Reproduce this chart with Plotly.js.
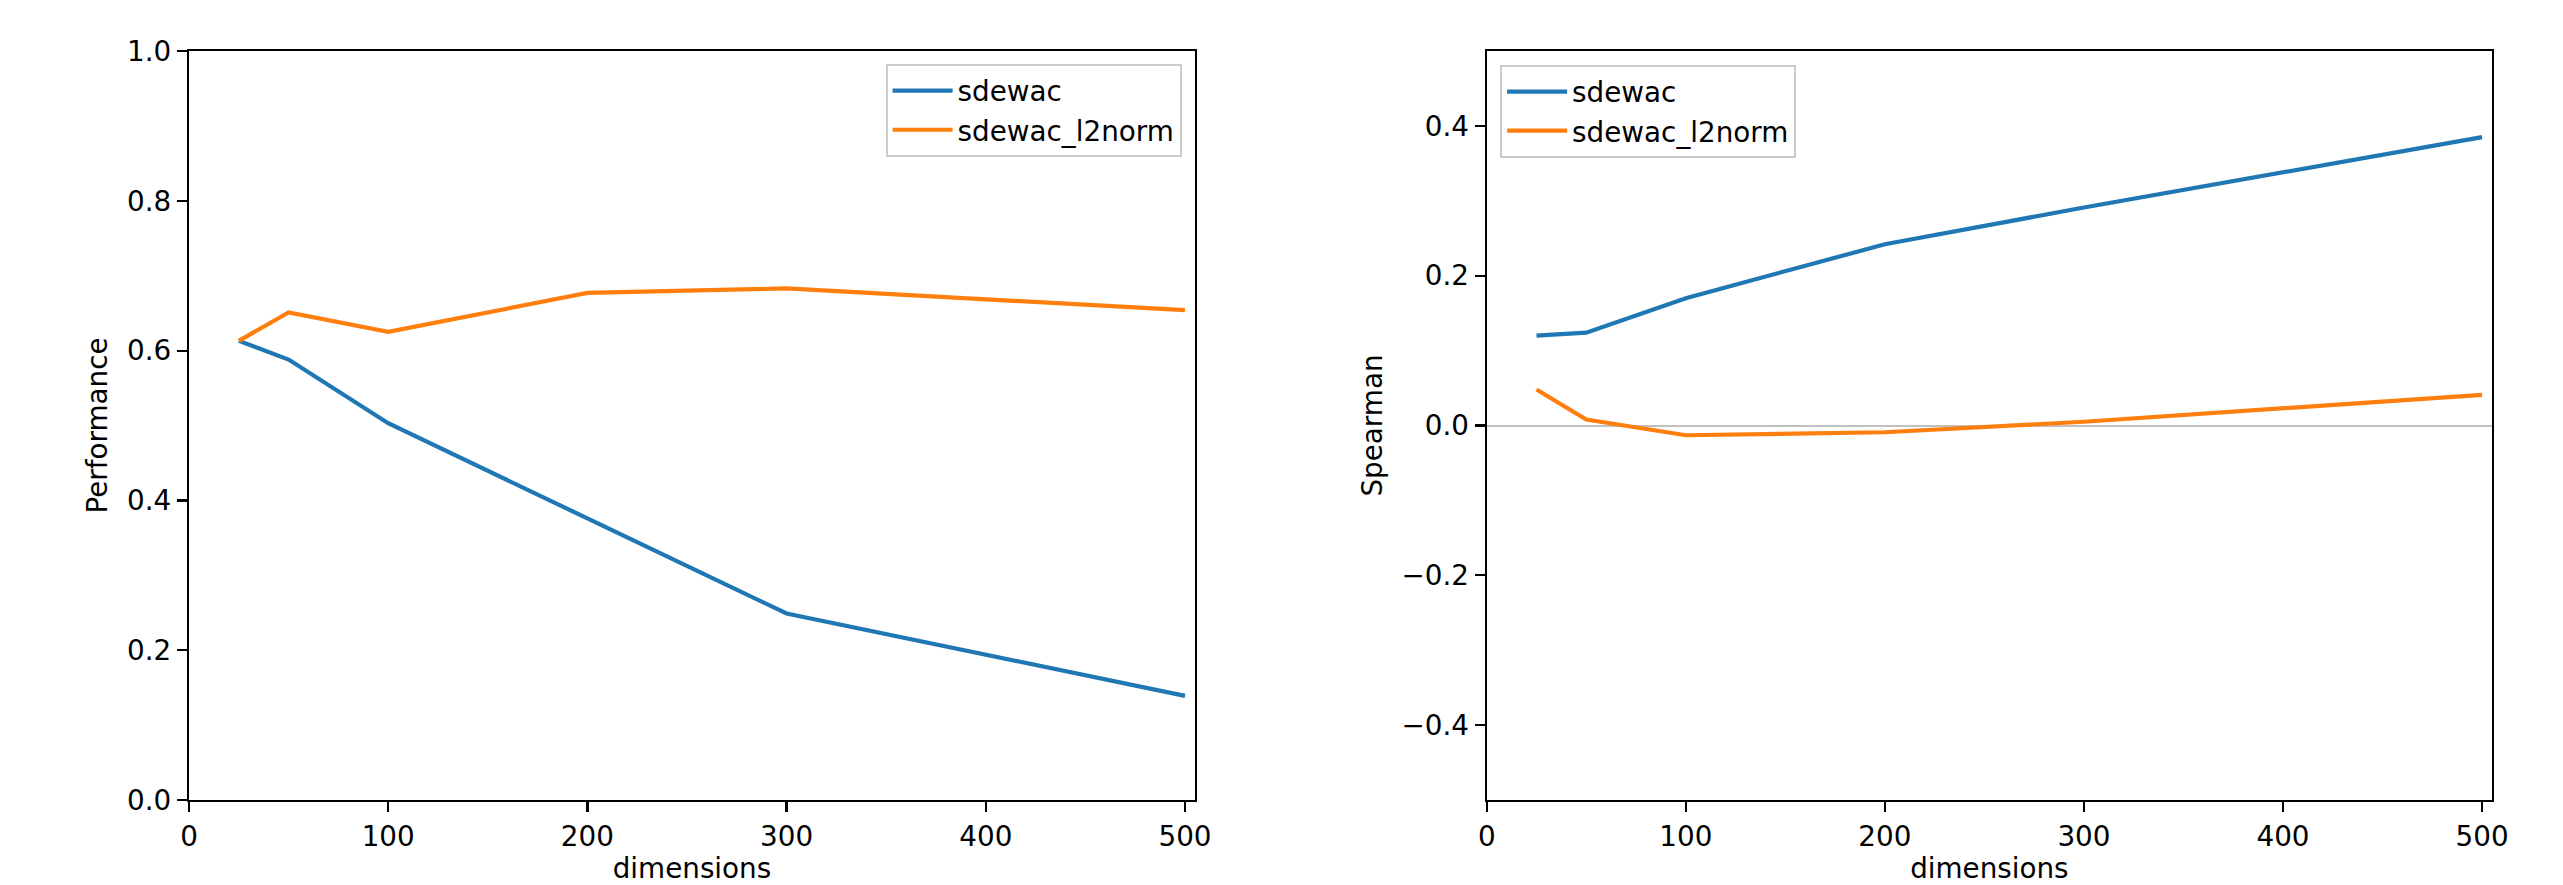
<!DOCTYPE html>
<html>
<head>
<meta charset="utf-8">
<script src="https://cdn.plot.ly/plotly-3.0.1.min.js"></script>
<style>
  html, body { margin: 0; padding: 0; background: #fff; }
  #chart { width: 2563px; height: 885px; }
</style>
</head>
<body>
<div id="chart"></div>
<script>
// Data
const dimensions = [25, 50, 100, 200, 300, 500];
const seriesNames = ["sdewac", "sdewac_l2norm"];
const performanceSdewac = [0.613, 0.588, 0.503, 0.376, 0.249, 0.139];
const performanceL2norm = [0.613, 0.651, 0.625, 0.677, 0.683, 0.654];
const spearmanSdewac = [0.120, 0.124, 0.170, 0.242, 0.291, 0.385];
const spearmanL2norm = [0.048, 0.008, -0.013, -0.009, 0.005, 0.041];
const xTicks = [0, 100, 200, 300, 400, 500];
const perfTicks = [0, 0.2, 0.4, 0.6, 0.8, 1.0];
const spearTicks = [-0.4, -0.2, 0, 0.2, 0.4];

const BLUE = "#1f77b4", ORANGE = "#ff7f0e";
const FONT = "DejaVu Sans, sans-serif";
const FS = 27.8;

const traces = [
  {x: dimensions, y: performanceSdewac, name: seriesNames[0], type: "scatter", mode: "lines",
   line: {color: BLUE, width: 4.2}, xaxis: "x", yaxis: "y", legend: "legend"},
  {x: dimensions, y: performanceL2norm, name: seriesNames[1], type: "scatter", mode: "lines",
   line: {color: ORANGE, width: 4.2}, xaxis: "x", yaxis: "y", legend: "legend"},
  {x: dimensions, y: spearmanSdewac, name: seriesNames[0], type: "scatter", mode: "lines",
   line: {color: BLUE, width: 4.2}, xaxis: "x2", yaxis: "y2", legend: "legend2"},
  {x: dimensions, y: spearmanL2norm, name: seriesNames[1], type: "scatter", mode: "lines",
   line: {color: ORANGE, width: 4.2}, xaxis: "x2", yaxis: "y2", legend: "legend2"}
];

function axisBase() {
  return {
    showline: true, mirror: true, linecolor: "#000", linewidth: 2.2,
    ticks: "outside", ticklen: 10, tickwidth: 2.2, tickcolor: "#000",
    showgrid: false, zeroline: false,
    tickfont: {family: FONT, size: FS, color: "#000"},
    automargin: false
  };
}

const legendBase = {
  font: {family: FONT, size: FS, color: "#000"},
  bgcolor: "rgba(255,255,255,0.8)",
  bordercolor: "#cccccc", borderwidth: 2,
  yanchor: "top", tracegroupgap: 0, itemwidth: 60
};

const layout = {
  width: 2563, height: 885,
  margin: {l: 189, r: 71, t: 51, b: 85},
  paper_bgcolor: "#fff", plot_bgcolor: "#fff",
  font: {family: FONT, size: FS, color: "#000"},
  showlegend: true,
  xaxis: Object.assign(axisBase(), {
    domain: [0, 0.4368], range: [0, 505], tickvals: xTicks, anchor: "y",
    title: {text: "dimensions", font: {family: FONT, size: FS, color: "#000"}, standoff: 12}
  }),
  yaxis: Object.assign(axisBase(), {
    domain: [0, 1], range: [0, 1], tickvals: perfTicks, tickformat: ".1f", anchor: "x",
    title: {text: "Performance", font: {family: FONT, size: FS, color: "#000"}, standoff: 11}
  }),
  xaxis2: Object.assign(axisBase(), {
    domain: [0.5635, 1], range: [0, 505], tickvals: xTicks, anchor: "y2",
    title: {text: "dimensions", font: {family: FONT, size: FS, color: "#000"}, standoff: 12}
  }),
  yaxis2: Object.assign(axisBase(), {
    domain: [0, 1], range: [-0.5, 0.5], tickvals: spearTicks, tickformat: ".1f", anchor: "x2",
    zeroline: true, zerolinecolor: "#c0c0c0", zerolinewidth: 2,
    title: {text: "Spearman", font: {family: FONT, size: FS, color: "#000"}, standoff: 11}
  }),
  legend: Object.assign({}, legendBase, {x: 0.4310, xanchor: "right", y: 0.9826}),
  legend2: Object.assign({}, legendBase, {x: 0.5693, xanchor: "left", y: 0.9813})
};

Plotly.newPlot("chart", traces, layout, {displayModeBar: false, staticPlot: true});
</script>
</body>
</html>
